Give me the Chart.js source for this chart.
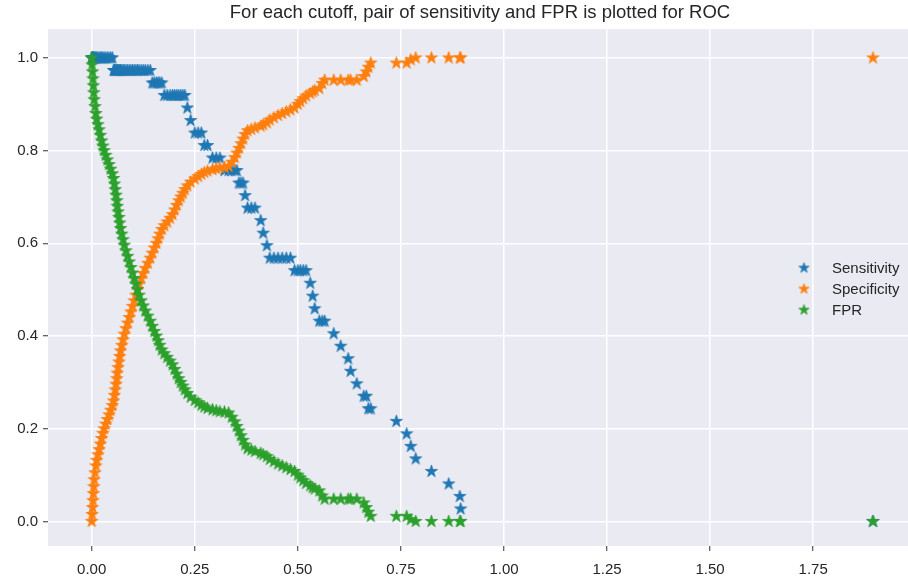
<!DOCTYPE html>
<html lang="en">
<head>
<meta charset="UTF-8">
<title>Sensitivity, specificity and FPR per cutoff</title>
<script src="https://cdn.jsdelivr.net/npm/chart.js"></script>
<style>
  body { margin: 0; background: #fff; }
  canvas { display: block; }
</style>
</head>
<body>
<canvas id="roc" width="908" height="582"></canvas>
<script>
// one entry per cutoff, ascending
const cutoffs = [
  0.000, 0.001, 0.002, 0.003, 0.004, 0.005, 0.006, 0.008, 0.010, 0.012,
  0.015, 0.018, 0.021, 0.024, 0.027, 0.030, 0.034, 0.038, 0.042, 0.046,
  0.050, 0.053, 0.055, 0.057, 0.059, 0.061, 0.062, 0.064, 0.066, 0.068,
  0.070, 0.073, 0.076, 0.079, 0.083, 0.087, 0.091, 0.095, 0.099, 0.103,
  0.107, 0.111, 0.115, 0.120, 0.125, 0.130, 0.136, 0.142, 0.147, 0.152,
  0.157, 0.161, 0.165, 0.170, 0.176, 0.183, 0.190, 0.196, 0.201, 0.206,
  0.211, 0.216, 0.221, 0.226, 0.232, 0.240, 0.250, 0.258, 0.266, 0.273,
  0.281, 0.293, 0.302, 0.311, 0.322, 0.332, 0.340, 0.347, 0.352, 0.357,
  0.362, 0.367, 0.372, 0.378, 0.387, 0.396, 0.410, 0.416, 0.425, 0.432,
  0.442, 0.452, 0.462, 0.472, 0.482, 0.492, 0.500, 0.506, 0.513, 0.520,
  0.530, 0.536, 0.541, 0.552, 0.559, 0.565, 0.587, 0.604, 0.622, 0.628,
  0.643, 0.660, 0.666, 0.671, 0.677, 0.739, 0.764, 0.774, 0.786, 0.824,
  0.866, 0.893, 0.895, 1.895
];

const sensitivity = [
  1.000, 1.000, 1.000, 1.000, 1.000, 1.000, 1.000, 1.000, 1.000, 1.000,
  1.000, 1.000, 1.000, 1.000, 1.000, 1.000, 1.000, 1.000, 1.000, 1.000,
  1.000, 0.973, 0.973, 0.973, 0.973, 0.973, 0.973, 0.973, 0.973, 0.973,
  0.973, 0.973, 0.973, 0.973, 0.973, 0.973, 0.973, 0.973, 0.973, 0.973,
  0.973, 0.973, 0.973, 0.973, 0.973, 0.973, 0.973, 0.973, 0.946, 0.946,
  0.946, 0.946, 0.946, 0.946, 0.919, 0.919, 0.919, 0.919, 0.919, 0.919,
  0.919, 0.919, 0.919, 0.919, 0.892, 0.865, 0.838, 0.838, 0.838, 0.811,
  0.811, 0.784, 0.784, 0.784, 0.757, 0.757, 0.757, 0.757, 0.757, 0.730,
  0.730, 0.730, 0.703, 0.676, 0.676, 0.676, 0.649, 0.622, 0.595, 0.568,
  0.568, 0.568, 0.568, 0.568, 0.568, 0.541, 0.541, 0.541, 0.541, 0.541,
  0.514, 0.486, 0.459, 0.432, 0.432, 0.432, 0.405, 0.378, 0.351, 0.324,
  0.297, 0.270, 0.270, 0.243, 0.243, 0.216, 0.189, 0.162, 0.135, 0.108,
  0.081, 0.054, 0.027, 0.000
];

const specificity = [
  0.000, 0.015, 0.030, 0.045, 0.060, 0.075, 0.090, 0.105, 0.120, 0.132,
  0.144, 0.155, 0.167, 0.179, 0.190, 0.200, 0.210, 0.220, 0.230, 0.240,
  0.250, 0.260, 0.272, 0.284, 0.296, 0.308, 0.320, 0.332, 0.344, 0.356,
  0.368, 0.380, 0.392, 0.404, 0.416, 0.428, 0.440, 0.452, 0.464, 0.476,
  0.488, 0.500, 0.512, 0.524, 0.535, 0.546, 0.557, 0.568, 0.579, 0.590,
  0.600, 0.610, 0.620, 0.630, 0.638, 0.646, 0.654, 0.662, 0.672, 0.682,
  0.692, 0.700, 0.708, 0.716, 0.724, 0.732, 0.739, 0.744, 0.749, 0.753,
  0.756, 0.759, 0.761, 0.763, 0.764, 0.766, 0.775, 0.785, 0.795, 0.805,
  0.815, 0.825, 0.835, 0.843, 0.846, 0.849, 0.853, 0.856, 0.860, 0.866,
  0.871, 0.876, 0.880, 0.884, 0.888, 0.892, 0.900, 0.906, 0.912, 0.918,
  0.923, 0.927, 0.930, 0.934, 0.945, 0.952, 0.952, 0.952, 0.952, 0.952,
  0.952, 0.960, 0.970, 0.980, 0.989, 0.989, 0.989, 0.996, 1.000, 1.000,
  1.000, 1.000, 1.000, 1.000
];

const fpr = [
  1.000, 0.985, 0.970, 0.955, 0.940, 0.925, 0.910, 0.895, 0.880, 0.868,
  0.856, 0.845, 0.833, 0.821, 0.810, 0.800, 0.790, 0.780, 0.770, 0.760,
  0.750, 0.740, 0.728, 0.716, 0.704, 0.692, 0.680, 0.668, 0.656, 0.644,
  0.632, 0.620, 0.608, 0.596, 0.584, 0.572, 0.560, 0.548, 0.536, 0.524,
  0.512, 0.500, 0.488, 0.476, 0.465, 0.454, 0.443, 0.432, 0.421, 0.410,
  0.400, 0.390, 0.380, 0.370, 0.362, 0.354, 0.346, 0.338, 0.328, 0.318,
  0.308, 0.300, 0.292, 0.284, 0.276, 0.268, 0.261, 0.256, 0.251, 0.247,
  0.244, 0.241, 0.239, 0.237, 0.236, 0.234, 0.225, 0.215, 0.205, 0.195,
  0.185, 0.175, 0.165, 0.157, 0.154, 0.151, 0.147, 0.144, 0.140, 0.134,
  0.129, 0.124, 0.120, 0.116, 0.112, 0.108, 0.100, 0.094, 0.088, 0.082,
  0.077, 0.073, 0.070, 0.066, 0.055, 0.048, 0.048, 0.048, 0.048, 0.048,
  0.048, 0.040, 0.030, 0.020, 0.011, 0.011, 0.011, 0.004, 0.000, 0.000,
  0.000, 0.000, 0.000, 0.000
];

const seriesNames = ['Sensitivity', 'Specificity', 'FPR'];
const xTickValues = [0, 0.25, 0.5, 0.75, 1.0, 1.25, 1.5, 1.75];
const yTickValues = [0, 0.2, 0.4, 0.6, 0.8, 1.0];

const FONT = "'Liberation Sans', Arial, sans-serif";
const TEXT = '#262626';

// filled five-point star, like matplotlib's '*' marker
function starMarker(color, r) {
  const size = Math.ceil(r * 2 + 4);
  const c = document.createElement('canvas');
  c.width = c.height = size;
  const g = c.getContext('2d');
  const ri = r * 0.382;
  g.beginPath();
  for (let i = 0; i < 10; i++) {
    const rad = i % 2 ? ri : r;
    const a = -Math.PI / 2 + i * Math.PI / 5;
    g.lineTo(size / 2 + rad * Math.cos(a), size / 2 + rad * Math.sin(a));
  }
  g.closePath();
  g.fillStyle = color;
  g.fill();
  g.lineWidth = 0.8;
  g.strokeStyle = color;
  g.stroke();
  return c;
}

const colors = ['#1f77b4', '#ff7f0e', '#2ca02c'];
const markers = colors.map(c => starMarker(c, 6.4));
const legendMarkers = colors.map(c => starMarker(c, 5.4));

function points(ys) {
  return cutoffs.map((x, i) => ({ x: x, y: ys[i] }));
}

const plotBackground = {
  id: 'plotBackground',
  afterLayout(chart) {
    // centre the title over the axes rather than the whole canvas
    if (chart.titleBlock) {
      chart.titleBlock.left = chart.chartArea.left;
      chart.titleBlock.right = chart.chartArea.right + 4;
    }
  },
  beforeDraw(chart) {
    const { ctx, chartArea: a } = chart;
    ctx.save();
    ctx.fillStyle = '#eaeaf2';
    ctx.fillRect(a.left, a.top, a.right - a.left, a.bottom - a.top);
    ctx.restore();
  }
};

// legend sits inside the plot, right side, no frame
const innerLegend = {
  id: 'innerLegend',
  afterDraw(chart) {
    const ctx = chart.ctx;
    ctx.save();
    ctx.font = '15px ' + FONT;
    ctx.fillStyle = TEXT;
    ctx.textBaseline = 'middle';
    chart.data.datasets.forEach((ds, i) => {
      const y = 268 + i * 21;
      const m = legendMarkers[i];
      ctx.drawImage(m, 804 - m.width / 2, y - m.height / 2);
      ctx.fillText(ds.label, 832, y + 1);
    });
    ctx.restore();
  }
};

const axisCommon = {
  type: 'linear',
  border: { display: false },
  grid: { color: '#ffffff', lineWidth: 1.5, tickColor: '#333333', tickLength: 5, tickWidth: 1 },
};

new Chart(document.getElementById('roc'), {
  type: 'scatter',
  data: {
    datasets: [
      { label: seriesNames[0], data: points(sensitivity), pointStyle: markers[0], order: 3 },
      { label: seriesNames[1], data: points(specificity), pointStyle: markers[1], order: 2 },
      { label: seriesNames[2], data: points(fpr), pointStyle: markers[2], order: 1 }
    ]
  },
  options: {
    responsive: false,
    animation: false,
    layout: { padding: 0, autoPadding: false },
    elements: { point: { radius: 6, hoverRadius: 6 } },
    plugins: {
      legend: { display: false },
      tooltip: { enabled: false },
      title: {
        display: true,
        text: 'For each cutoff, pair of sensitivity and FPR is plotted for ROC',
        color: TEXT,
        font: { family: FONT, size: 18.5, weight: 'normal' },
        padding: { top: 2, bottom: 5 }
      }
    },
    scales: {
      x: Object.assign({}, axisCommon, {
        min: -0.106,
        max: 1.980,
        afterBuildTicks: s => { s.ticks = xTickValues.map(v => ({ value: v })); },
        afterFit: s => { s.height = 36; s.paddingLeft = 0; s.paddingRight = 0; },
        ticks: {
          color: TEXT, font: { family: FONT, size: 15 }, padding: 10,
          maxRotation: 0, autoSkip: false,
          callback: v => Number(v).toFixed(2)
        }
      }),
      y: Object.assign({}, axisCommon, {
        min: -0.053,
        max: 1.062,
        afterBuildTicks: s => { s.ticks = yTickValues.map(v => ({ value: v })); },
        afterFit: s => { s.width = 48; s.paddingTop = 0; s.paddingBottom = 0; },
        ticks: {
          color: TEXT, font: { family: FONT, size: 15 }, padding: 5,
          autoSkip: false,
          callback: v => Number(v).toFixed(1)
        }
      })
    }
  },
  plugins: [plotBackground, innerLegend]
});
</script>
</body>
</html>
